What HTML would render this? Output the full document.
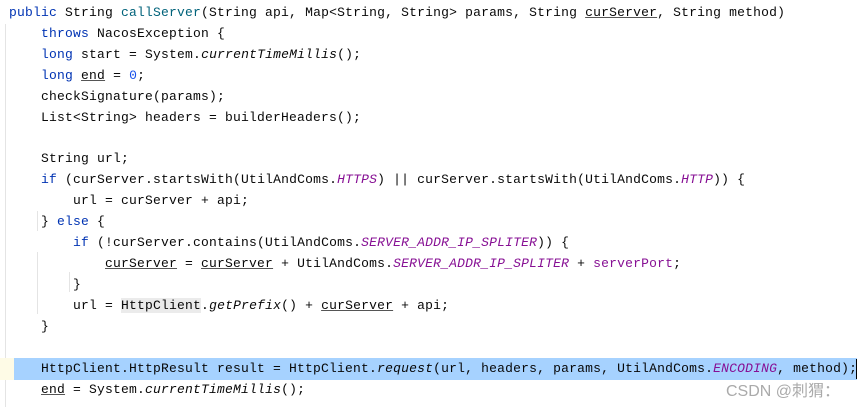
<!DOCTYPE html>
<html><head><meta charset="utf-8"><style>
html,body{margin:0;padding:0;background:#fff;width:861px;height:407px;overflow:hidden;position:relative}
.l{position:absolute;left:9px;height:21px;line-height:21px;font-family:"Liberation Mono",monospace;font-size:13px;letter-spacing:0.2px;color:#080808;white-space:pre}
.k{color:#0033b3}.m{color:#00627a}.n{color:#1750eb}.c{color:#871094;font-style:italic}.f{color:#871094}.i{font-style:italic}
.u{text-decoration:underline;text-decoration-color:#555}
.g{position:absolute;width:1px;background:#e4e4e4}
.hb{background:#ebebeb}
</style></head><body>
<div class="g" style="left:5px;top:24px;height:383px"></div>
<div class="g" style="left:37px;top:211px;height:20px"></div>
<div class="g" style="left:37px;top:252px;height:62px"></div>
<div class="g" style="left:69px;top:272px;height:20px"></div>
<div style="position:absolute;left:0;top:358px;width:14px;height:22px;background:#fefbe6"></div>
<div style="position:absolute;left:14px;top:358px;width:843px;height:22px;background:#a6d2ff"></div>
<div style="position:absolute;left:856px;top:359px;width:1px;height:20px;background:#000"></div>
<div class="l" style="top:2px"><span class="k">public</span> String <span class="m">callServer</span>(String api, Map&lt;String, String&gt; params, String <span class="u">curServer</span>, String method)</div>
<div class="l" style="top:23px">    <span class="k">throws</span> NacosException {</div>
<div class="l" style="top:44px">    <span class="k">long</span> start = System.<span class="i">currentTimeMillis</span>();</div>
<div class="l" style="top:65px">    <span class="k">long</span> <span class="u">end</span> = <span class="n">0</span>;</div>
<div class="l" style="top:86px">    checkSignature(params);</div>
<div class="l" style="top:107px">    List&lt;String&gt; headers = builderHeaders();</div>
<div class="l" style="top:148px">    String url;</div>
<div class="l" style="top:169px">    <span class="k">if</span> (curServer.startsWith(UtilAndComs.<span class="c">HTTPS</span>) || curServer.startsWith(UtilAndComs.<span class="c">HTTP</span>)) {</div>
<div class="l" style="top:190px">        url = curServer + api;</div>
<div class="l" style="top:211px">    } <span class="k">else</span> {</div>
<div class="l" style="top:232px">        <span class="k">if</span> (!curServer.contains(UtilAndComs.<span class="c">SERVER_ADDR_IP_SPLITER</span>)) {</div>
<div class="l" style="top:253px">            <span class="u">curServer</span> = <span class="u">curServer</span> + UtilAndComs.<span class="c">SERVER_ADDR_IP_SPLITER</span> + <span class="f">serverPort</span>;</div>
<div class="l" style="top:274px">        }</div>
<div class="l" style="top:295px">        url = <span class="hb">HttpClient</span>.<span class="i">getPrefix</span>() + <span class="u">curServer</span> + api;</div>
<div class="l" style="top:316px">    }</div>
<div class="l" style="top:358px">    HttpClient.HttpResult result = HttpClient.<span class="i">request</span>(url, headers, params, UtilAndComs.<span class="c">ENCODING</span>, method);</div>
<div class="l" style="top:379px">    <span class="u">end</span> = System.<span class="i">currentTimeMillis</span>();</div>
<div style="position:absolute;left:726px;top:377px;font-family:'Liberation Sans','Noto Sans CJK SC',sans-serif;font-size:16px;color:#aaa;white-space:nowrap">CSDN @刺猬：</div>
</body></html>
